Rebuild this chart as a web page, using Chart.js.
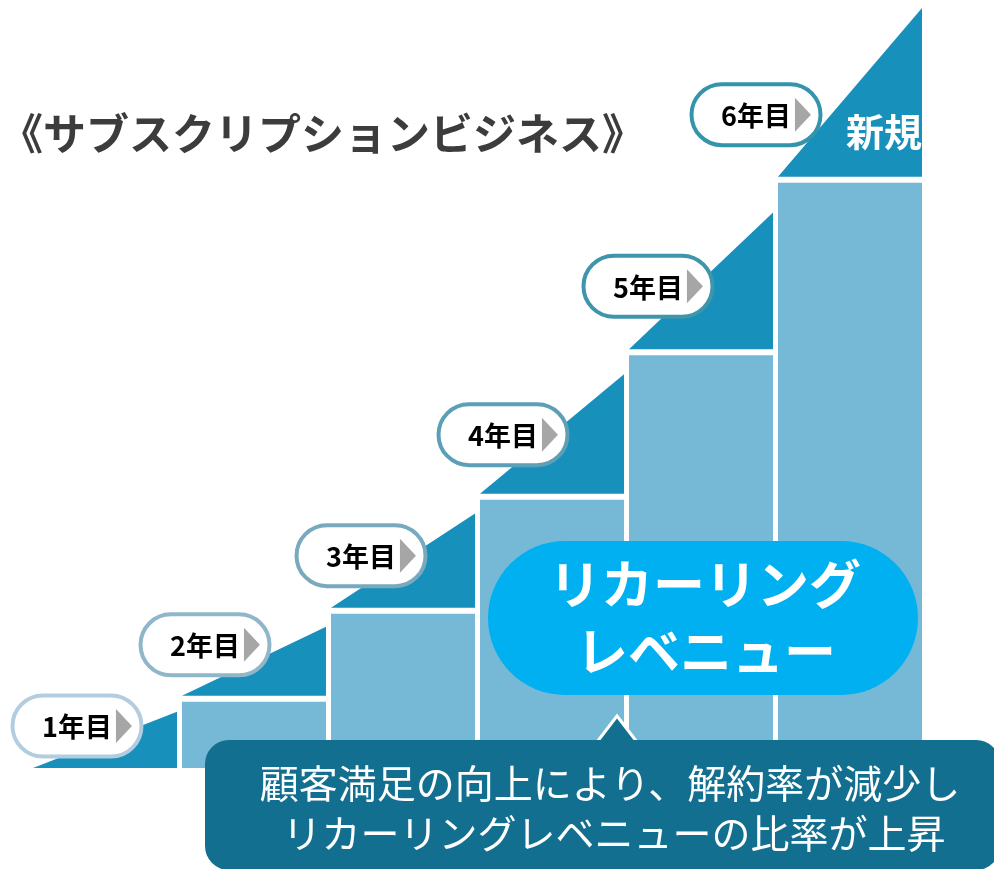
<!DOCTYPE html>
<html lang="ja">
<head>
<meta charset="utf-8">
<script src="https://cdn.jsdelivr.net/npm/chart.js@4.4.1/dist/chart.umd.min.js"></script>
<style>
  html, body { margin: 0; padding: 0; background: #ffffff; }
  #wrap { width: 994px; height: 869px; }
</style>
</head>
<body>
<div id="wrap"><canvas id="stepChart"></canvas></div>
<script>
// 年ごとの収益（リカーリング分＋新規分）
const years = ["1年目", "2年目", "3年目", "4年目", "5年目", "6年目"];
const recurring = [0, 9.5, 21.1, 36.1, 55.1, 77.8];
const newSales = [7.4, 9.1, 12.4, 15.7, 18.0, 22.2];

const titleText = "《サブスクリプションビジネス》";
const newLabel = "新規";
const bubbleLines = ["リカーリング", "レベニュー"];
const noteLines = ["顧客満足の向上により、解約率が減少し", "リカーリングレベニューの比率が上昇"];

const JP = '"Noto Sans CJK JP", "Noto Sans", sans-serif';
const TRI_COLOR = "#1790bb";
const RECT_COLOR = "#76b9d6";
const BUBBLE_COLOR = "#00b0f0";
const NOTE_COLOR = "#136f8f";
// 年目ラベルの枠線は年数が進むほど濃くなる
const ringColors = ["#b3cde0", "#90b6c9", "#78a9be", "#5c9fb6", "#3e95ac", "#3394ab"];
// 年目ラベルの中心位置（三角形の左下角からのずれ）
const tagOffsets = [[44, -42], [23, -51], [30, -52], [23, -59], [19, -63], [-22, -62]];

function roundedRect(ctx, x, y, w, h, r) {
  ctx.beginPath();
  ctx.moveTo(x + r, y);
  ctx.lineTo(x + w - r, y);
  ctx.arc(x + w - r, y + r, r, -Math.PI / 2, 0);
  ctx.lineTo(x + w, y + h - r);
  ctx.arc(x + w - r, y + h - r, r, 0, Math.PI / 2);
  ctx.lineTo(x + r, y + h);
  ctx.arc(x + r, y + h - r, r, Math.PI / 2, Math.PI);
  ctx.lineTo(x, y + r);
  ctx.arc(x + r, y + r, r, Math.PI, Math.PI * 1.5);
  ctx.closePath();
}

// 新規分を三角形で描き、年目ラベルを添える
const stepPlugin = {
  id: "steps",
  afterDatasetsDraw(chart) {
    const ctx = chart.ctx;
    const meta = chart.getDatasetMeta(1);
    ctx.save();
    meta.data.forEach((bar) => {
      const p = bar.getProps(["x", "y", "base", "width"], true);
      const left = p.x - p.width / 2;
      const right = p.x + p.width / 2;
      ctx.fillStyle = TRI_COLOR;
      ctx.beginPath();
      ctx.moveTo(left, p.base);
      ctx.lineTo(right, p.base);
      ctx.lineTo(right, p.y);
      ctx.closePath();
      ctx.fill();
    });

    meta.data.forEach((bar, i) => {
      const p = bar.getProps(["x", "y", "base", "width"], true);
      const left = p.x - p.width / 2;
      const cx = left + tagOffsets[i][0];
      const cy = p.base + tagOffsets[i][1];
      const pw = 129, ph = 61;
      const px = cx - pw / 2;
      const py = cy - ph / 2;

      roundedRect(ctx, px, py, pw, ph, ph / 2);
      ctx.fillStyle = "#ffffff";
      ctx.fill();
      ctx.lineWidth = 4;
      ctx.strokeStyle = ringColors[i];
      ctx.stroke();

      ctx.font = "bold 27px " + JP;
      ctx.textBaseline = "middle";
      ctx.textAlign = "left";
      const tw = ctx.measureText(years[i]).width;
      const gw = tw + 4 + 16;
      const gx = cx + 10 - gw / 2;
      ctx.fillStyle = "#000000";
      ctx.fillText(years[i], gx, cy + 1);

      const ax = gx + tw + 4;
      ctx.fillStyle = "#a6a6a6";
      ctx.beginPath();
      ctx.moveTo(ax, cy - 17);
      ctx.lineTo(ax + 16, cy);
      ctx.lineTo(ax, cy + 17);
      ctx.closePath();
      ctx.fill();
    });

    // 最終年の三角形の中の「新規」
    const last = meta.data[meta.data.length - 1].getProps(["x", "y", "base", "width"], true);
    ctx.font = "bold 38px " + JP;
    ctx.textAlign = "right";
    ctx.textBaseline = "middle";
    ctx.fillStyle = "#ffffff";
    ctx.fillText(newLabel, last.x + last.width / 2, 132);
    ctx.restore();
  },
  afterDraw(chart) {
    const ctx = chart.ctx;
    ctx.save();

    // タイトル
    ctx.font = "bold 43px " + JP;
    ctx.textAlign = "left";
    ctx.textBaseline = "middle";
    ctx.fillStyle = "#3c3c3c";
    ctx.fillText(titleText, 0, 134);

    // リカーリングレベニューの吹き出し
    roundedRect(ctx, 488, 541, 430, 154, 77);
    ctx.fillStyle = BUBBLE_COLOR;
    ctx.fill();
    ctx.font = "bold 52px " + JP;
    ctx.textAlign = "center";
    ctx.fillStyle = "#ffffff";
    ctx.fillText(bubbleLines[0], 705, 584);
    ctx.fillText(bubbleLines[1], 706, 651);

    // 説明ボックス（上向きの矢印付き）
    ctx.beginPath();
    ctx.moveTo(617, 716);
    ctx.lineTo(637, 742);
    ctx.lineTo(597, 742);
    ctx.closePath();
    ctx.fillStyle = NOTE_COLOR;
    ctx.fill();
    ctx.lineWidth = 3;
    ctx.strokeStyle = "#ffffff";
    ctx.stroke();

    roundedRect(ctx, 205, 740, 795, 130, 24);
    ctx.fillStyle = NOTE_COLOR;
    ctx.fill();

    ctx.font = "39px " + JP;
    ctx.fillStyle = "#ffffff";
    ctx.textAlign = "center";
    ctx.fillText(noteLines[0], 610, 783);
    ctx.fillText(noteLines[1], 614, 833);
    ctx.restore();
  }
};

const canvas = document.getElementById("stepChart");
const chart = new Chart(canvas, {
  type: "bar",
  data: {
    labels: years,
    datasets: [
      {
        label: "リカーリング",
        data: recurring,
        backgroundColor: RECT_COLOR,
        borderColor: "#ffffff",
        borderWidth: { top: 6, left: 0, right: 0, bottom: 0 },
        borderSkipped: false,
        barPercentage: 144 / 149,
        categoryPercentage: 1,
      },
      {
        label: "新規",
        data: newSales,
        backgroundColor: "rgba(0,0,0,0)",
        borderWidth: 0,
        barPercentage: 144 / 149,
        categoryPercentage: 1,
      },
    ],
  },
  options: {
    responsive: true,
    maintainAspectRatio: false,
    animation: false,
    layout: {
      padding: { left: 30.5, right: 69.5, top: 8, bottom: 101 },
    },
    scales: {
      x: { stacked: true, display: false },
      y: { stacked: true, display: false, min: 0, max: 100 },
    },
    plugins: {
      legend: { display: false },
      tooltip: { enabled: false },
    },
  },
  plugins: [stepPlugin],
});
</script>
</body>
</html>
